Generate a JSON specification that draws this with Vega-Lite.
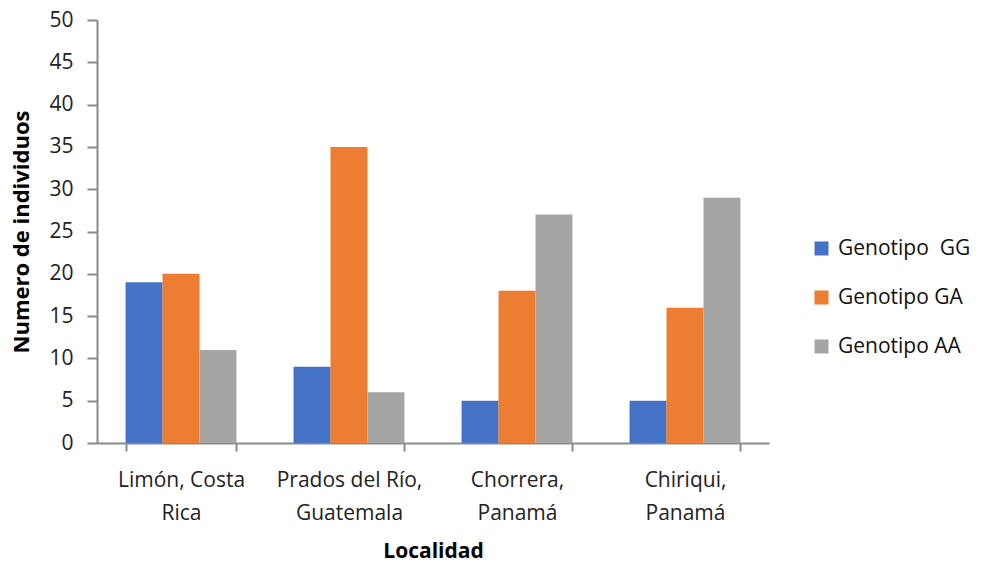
{
  "$schema": "https://vega.github.io/schema/vega-lite/v6.json",
  "autosize": {"type": "none"},
  "padding": {"left": 97, "top": 20, "right": 213, "bottom": 120},
  "width": 672,
  "height": 423,
  "background": "white",
  "data": {
    "values": [
      {"localidad": "Limón, Costa Rica", "genotipo": "Genotipo\u00a0 GG", "n": 19},
      {"localidad": "Limón, Costa Rica", "genotipo": "Genotipo GA", "n": 20},
      {"localidad": "Limón, Costa Rica", "genotipo": "Genotipo AA", "n": 11},
      {"localidad": "Prados del Río, Guatemala", "genotipo": "Genotipo\u00a0 GG", "n": 9},
      {"localidad": "Prados del Río, Guatemala", "genotipo": "Genotipo GA", "n": 35},
      {"localidad": "Prados del Río, Guatemala", "genotipo": "Genotipo AA", "n": 6},
      {"localidad": "Chorrera, Panamá", "genotipo": "Genotipo\u00a0 GG", "n": 5},
      {"localidad": "Chorrera, Panamá", "genotipo": "Genotipo GA", "n": 18},
      {"localidad": "Chorrera, Panamá", "genotipo": "Genotipo AA", "n": 27},
      {"localidad": "Chiriqui, Panamá", "genotipo": "Genotipo\u00a0 GG", "n": 5},
      {"localidad": "Chiriqui, Panamá", "genotipo": "Genotipo GA", "n": 16},
      {"localidad": "Chiriqui, Panamá", "genotipo": "Genotipo AA", "n": 29}
    ]
  },
  "mark": {"type": "bar"},
  "encoding": {
    "x": {
      "field": "localidad",
      "type": "nominal",
      "sort": null,
      "scale": {"paddingInner": 0.34, "paddingOuter": 0.17},
      "axis": {
        "title": "Localidad",
        "titleFont": "Open Sans",
        "titleFontSize": 21,
        "titleFontWeight": "bold",
        "titleColor": "#000000",
        "titlePadding": 17,
        "labelFont": "Open Sans",
        "labelFontSize": 21,
        "labelColor": "#222222",
        "labelAngle": 0,
        "labelLineHeight": 33,
        "labelPadding": 18,
        "labelExpr": "datum.label == 'Limón, Costa Rica' ? ['Limón, Costa', 'Rica'] : datum.label == 'Prados del Río, Guatemala' ? ['Prados del Río,', 'Guatemala'] : datum.label == 'Chorrera, Panamá' ? ['Chorrera,', 'Panamá'] : datum.label == 'Chiriqui, Panamá' ? ['Chiriqui,', 'Panamá'] : ''",
        "tickBand": "extent",
        "tickSize": 8,
        "tickWidth": 2,
        "tickColor": "#8a8a8a",
        "domainColor": "#8a8a8a",
        "domainWidth": 2
      }
    },
    "xOffset": {"field": "genotipo", "type": "nominal", "sort": null, "scale": {"paddingInner": 0, "paddingOuter": 0}},
    "y": {
      "field": "n",
      "type": "quantitative",
      "scale": {"domain": [0, 50]},
      "axis": {
        "title": "Numero de individuos",
        "titleFont": "Open Sans",
        "titleFontSize": 22,
        "titleFontWeight": "bold",
        "titleColor": "#000000",
        "titlePadding": 15,
        "values": [0, 5, 10, 15, 20, 25, 30, 35, 40, 45, 50],
        "labelFont": "Open Sans",
        "labelFontSize": 21,
        "labelColor": "#222222",
        "labelPadding": 14,
        "grid": false,
        "tickSize": 10,
        "tickWidth": 2,
        "tickColor": "#8a8a8a",
        "domainColor": "#8a8a8a",
        "domainWidth": 2
      }
    },
    "color": {
      "field": "genotipo",
      "type": "nominal",
      "sort": null,
      "scale": {
        "domain": ["Genotipo\u00a0 GG", "Genotipo GA", "Genotipo AA"],
        "range": ["#4472C4", "#ED7D31", "#A5A5A5"]
      },
      "legend": {
        "title": null,
        "orient": "none",
        "legendX": 714,
        "legendY": 218,
        "symbolType": "square",
        "symbolSize": 196,
        "symbolStrokeWidth": 0,
        "labelFont": "Open Sans",
        "labelFontSize": 21,
        "labelColor": "#111111",
        "labelOffset": 6,
        "rowPadding": 27
      }
    }
  },
  "config": {
    "view": {"stroke": null}
  }
}
